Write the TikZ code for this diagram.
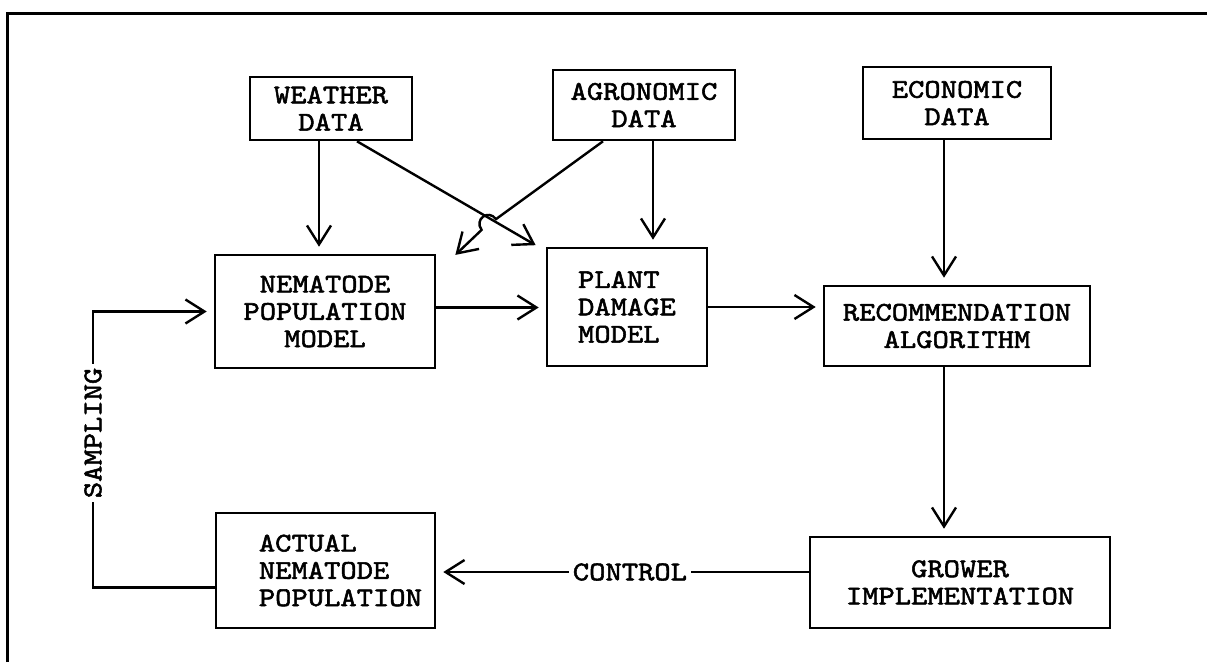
\documentclass[tikz,border=0pt]{standalone}
\usepackage{fontspec}
\newfontfamily\tw{lmmono10-regular}[Extension=.otf, FakeStretch=1.15, FakeBold=2]
\usetikzlibrary{arrows.meta}
\begin{document}
\begin{tikzpicture}[x=1pt,y=-1pt,
  txt/.style={inner sep=0pt, align=center, font=\tw\fontsize{27}{27.3}\selectfont},
  box/.style={txt, draw, line width=2.6pt},
  arr/.style={line width=2.4pt, shorten >=7pt,
    -{Straight Barb[length=19pt,width=24pt,line width=2.4pt]}},
  lbl/.style={txt, fill=white, inner xsep=4pt, inner ysep=2pt}]
\useasboundingbox (0,0) rectangle (1207,662);
% frame
\draw[line width=3pt] (7,662) -- (7,13) -- (1207,13);

% inputs
\node[box, minimum width=162pt, minimum height=63pt] (weather) at (331,108.5) {WEATHER\\DATA};
\node[box, minimum width=182pt, minimum height=70pt] (agro) at (644,105) {AGRONOMIC\\DATA};
\node[box, minimum width=188pt, minimum height=72pt] (econ) at (957,103) {ECONOMIC\\DATA};

% models
\node[box, minimum width=220pt, minimum height=113pt] (nema) at (325,311.5) {NEMATODE\\POPULATION\\MODEL};
\node[box, align=left, minimum width=160pt, minimum height=118pt] (plant) at (627,307) {PLANT\\DAMAGE\\MODEL};
\node[box, minimum width=266pt, minimum height=80pt] (recom) at (957,326) {RECOMMENDATION\\ALGORITHM};

% field
\node[box, minimum width=300pt, minimum height=91pt] (grower) at (960,582.5) {GROWER\\IMPLEMENTATION};
\node[box, minimum width=219pt, minimum height=115pt] (actual) at (325.5,570.5) {};
\node[txt, align=left, anchor=west] (actualtxt) at ([xshift=44pt]actual.west) {ACTUAL\\NEMATODE\\POPULATION};

% hop of the agronomic line over the weather line
\coordinate (hopA) at (496.0,219.1);
\coordinate (hopB) at (481.6,229.9);
\coordinate (hopCa) at (488.3,208.7);
\coordinate (hopCb) at (473.9,219.5);
% sampling loop
\coordinate (sx) at (93,0);
\coordinate (sa) at ([yshift=-17pt]actual.west);

% data inputs
\draw[arr] ([xshift=-12pt]weather.south) -- ([xshift=-6pt]nema.north);
\draw[arr] ([xshift=26pt]weather.south) -- ([xshift=-4pt,yshift=-2pt]plant.north west);
\draw[arr] ([xshift=-41pt]agro.south) -- (hopA) .. controls (hopCa) and (hopCb) .. (hopB)
  -- ([xshift=14pt,yshift=-6pt]nema.north east);
\draw[arr] ([xshift=9pt]agro.south) -- ([xshift=26pt]plant.north);
\draw[arr] ([xshift=-13pt]econ.south) -- ([xshift=-13pt]recom.north);

% main chain
\draw[arr] ([yshift=4pt]nema.east) -- ([yshift=4pt]nema.east -| plant.west);
\draw[arr] (plant.east) -- (plant.east -| recom.west);
\draw[arr] ([xshift=-13pt]recom.south) -- ([xshift=-13pt]recom.south |- grower.north);
\draw[arr] ([yshift=10.5pt]grower.west) -- node[lbl, pos=0.48] {CONTROL}
  ([yshift=10.5pt]grower.west -| actual.east);

% sampling feedback
\draw[arr] (sa) -- (sx |- sa)
  -- node[lbl, pos=0.56, rotate=90] {SAMPLING} (sx |- nema.west) -- (nema.west);
\end{tikzpicture}
\end{document}
